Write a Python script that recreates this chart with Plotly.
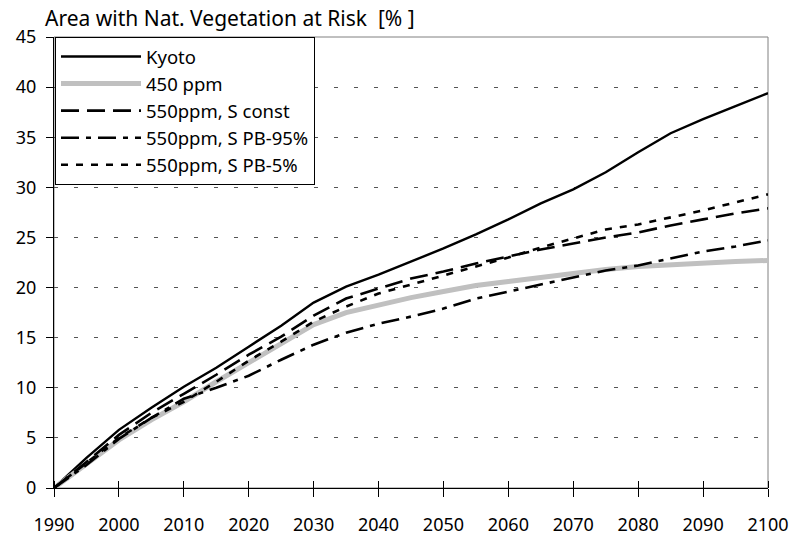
import plotly.graph_objects as go

years = [1990, 1995, 2000, 2005, 2010, 2015, 2020, 2025, 2030, 2035, 2040, 2045,
         2050, 2055, 2060, 2065, 2070, 2075, 2080, 2085, 2090, 2095, 2100]

kyoto = [0, 3.0, 5.8, 8.0, 10.1, 12.0, 14.1, 16.2, 18.5, 20.1, 21.3, 22.6,
         23.9, 25.3, 26.8, 28.4, 29.8, 31.5, 33.5, 35.4, 36.8, 38.1, 39.4]
ppm450 = [0, 2.4, 4.8, 6.8, 8.6, 10.6, 12.5, 14.4, 16.3, 17.5, 18.3, 19.0,
          19.6, 20.2, 20.6, 21.0, 21.5, 21.8, 22.1, 22.3, 22.5, 22.6, 22.7]
s_const = [0, 2.6, 5.3, 7.5, 9.4, 11.3, 13.3, 15.1, 17.2, 18.9, 19.9, 20.9,
           21.6, 22.4, 23.1, 23.8, 24.4, 25.0, 25.5, 26.2, 26.8, 27.4, 27.9]
s_pb95 = [0, 2.3, 4.9, 7.0, 8.9, 10.0, 11.2, 12.8, 14.3, 15.5, 16.4, 17.1,
          17.9, 18.9, 19.6, 20.3, 21.0, 21.7, 22.2, 22.9, 23.6, 24.1, 24.7]
s_pb5 = [0, 2.5, 5.0, 7.0, 8.6, 10.6, 12.7, 14.6, 16.6, 18.1, 19.4, 20.3,
         21.2, 22.1, 23.0, 24.0, 24.9, 25.8, 26.3, 27.0, 27.7, 28.5, 29.3]

names = ["Kyoto", "450 ppm", "550ppm, S const", "550ppm, S PB-95%", "550ppm, S PB-5%"]
series = [kyoto, ppm450, s_const, s_pb95, s_pb5]
colors = ["black", "#c0c0c0", "black", "black", "black"]
widths = [2.4, 5, 2.6, 2.6, 2.6]
dashes = ["solid", "solid", "18px,8px", "18px,7px,5px,7px", "7px,8px"]

x_ticks = [1990, 2000, 2010, 2020, 2030, 2040, 2050, 2060, 2070, 2080, 2090, 2100]
y_ticks = [0, 5, 10, 15, 20, 25, 30, 35, 40, 45]

FONT = "Noto Sans"
W, H = 792, 535

fig = go.Figure()
for i, (nm, ys) in enumerate(zip(names, series)):
    fig.add_trace(go.Scatter(
        x=years, y=ys, mode="lines", name=nm, legendgroup=f"g{i}",
        line=dict(color=colors[i], width=widths[i], dash=dashes[i]),
    ))

# plot frame (grey top/right border)
fig.add_shape(type="rect", xref="paper", yref="paper", x0=0, x1=1, y0=0, y1=1,
              line=dict(color="#808080", width=1), layer="below")

fig.update_layout(
    width=W, height=H,
    margin=dict(l=54, r=24, t=37, b=47, autoexpand=False),
    paper_bgcolor="white", plot_bgcolor="white",
    font=dict(family=FONT, size=18, color="black"),
    title=dict(text="Area with Nat. Vegetation at Risk\u00a0 [%\u00a0]",
               x=45 / W, xref="container", xanchor="left",
               y=1 - 19 / H, yref="container", yanchor="middle",
               font=dict(family=FONT, size=21, color="black")),
    showlegend=True,
    legend=dict(x=0.0014, y=1, xanchor="left", yanchor="top",
                bgcolor="white", bordercolor="black", borderwidth=1,
                font=dict(family=FONT, size=18.5, color="black"),
                traceorder="grouped", tracegroupgap=0,
                itemwidth=80),
    xaxis=dict(range=[1990, 2100], tickvals=x_ticks, ticktext=[str(v) for v in x_ticks],
               showgrid=False, zeroline=False, automargin=False,
               showline=True, linecolor="black", linewidth=1,
               ticks="outside", ticklen=8, tickcolor="black",
               ticklabelstandoff=12,
               minor=dict(ticks="inside", tickvals=x_ticks, ticklen=7, tickcolor="black", showgrid=False),
               tickfont=dict(family=FONT, size=18)),
    yaxis=dict(range=[0, 45], tickvals=y_ticks, ticktext=[str(v) for v in y_ticks],
               showgrid=True, gridcolor="#555555", gridwidth=1, griddash="4px,16px",
               zeroline=False, automargin=False,
               showline=True, linecolor="black", linewidth=1,
               ticks="outside", ticklen=7, tickcolor="black",
               ticklabelstandoff=6,
               tickfont=dict(family=FONT, size=18)),
)

fig.write_html("out.html",
               config={"displayModeBar": False},
               post_script="document.body.style.margin='0';document.body.style.overflow='hidden';")
